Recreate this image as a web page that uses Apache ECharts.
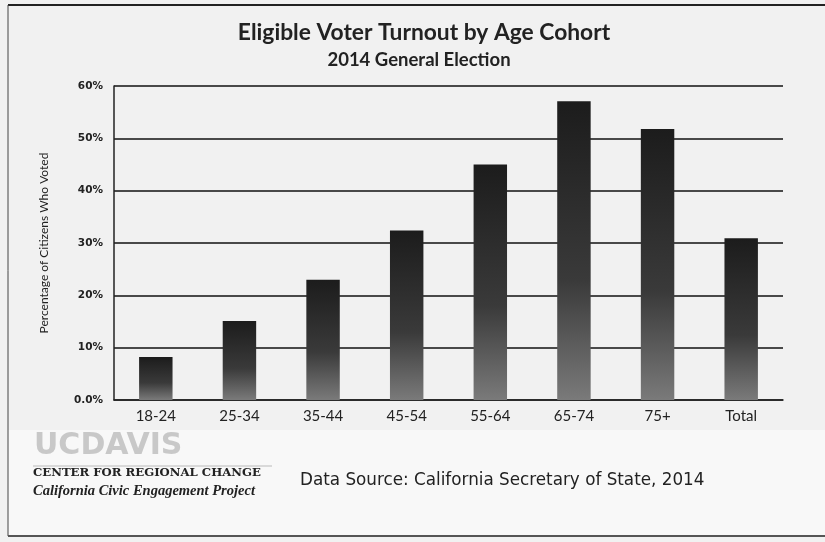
<!DOCTYPE html>
<html><head><meta charset="utf-8">
<script src="https://cdn.jsdelivr.net/npm/echarts@6/dist/echarts.min.js"></script>
<style>html,body{margin:0;padding:0;background:#fff}#c{width:825px;height:542px}</style>
</head><body><div id="c"></div>
<script>
const categories = ['18-24','25-34','35-44','45-54','55-64','65-74','75+','Total'];
const turnout = [8.2, 15.1, 23.0, 32.4, 45.0, 57.1, 51.8, 30.9];
const yTickLabels = ['0.0%','10%','20%','30%','40%','50%','60%'];

const chart = echarts.init(document.getElementById('c'));
const F = 'Lato, "Open Sans", sans-serif';
chart.setOption({
  backgroundColor: '#f1f1f1',
  animation: false,
  title: [
    {text: 'Eligible Voter Turnout by Age Cohort', left: 419, top: 16, textAlign: 'center',
     textStyle: {fontFamily: F, fontSize: 22.8, fontWeight: 'bold', color: '#222'}},
    {text: '2014 General Election', left: 414, top: 46, textAlign: 'center',
     textStyle: {fontFamily: F, fontSize: 18.5, fontWeight: 'bold', color: '#222'}}
  ],
  grid: {left: 114, right: 42, top: 86, bottom: 142},
  xAxis: {
    type: 'category', data: categories,
    axisLine: {lineStyle: {color: '#222', width: 1.5}},
    axisTick: {show: false},
    axisLabel: {fontFamily: F, fontSize: 15, color: '#222', margin: 9}
  },
  yAxis: {
    type: 'value', min: 0, max: 60, interval: 10,
    name: 'Percentage of Citizens Who Voted', nameLocation: 'middle', nameGap: 64,
    nameTextStyle: {fontFamily: F, fontSize: 12, color: '#222'},
    axisLine: {show: true, lineStyle: {color: '#222', width: 1.5}},
    axisTick: {show: false},
    splitLine: {lineStyle: {color: '#111', width: 1.5}},
    axisLabel: {fontFamily: '"DejaVu Sans", sans-serif', fontSize: 10.5, fontWeight: 'bold', color: '#222', margin: 11,
      formatter: (v) => yTickLabels[Math.round(v / 10)]}
  },
  series: [{
    type: 'bar', data: turnout, barWidth: '40%',
    itemStyle: {color: new echarts.graphic.LinearGradient(0, 0, 0, 1, [
      {offset: 0, color: '#1c1c1c'}, {offset: 0.6, color: '#3a3a3a'}, {offset: 1, color: '#7a7a7a'}])}
  }],
  graphic: [
    {type: 'rect', z: -1, shape: {x: 8, y: 430, width: 817, height: 106}, style: {fill: '#f8f8f8'}},
    {type: 'line', shape: {x1: 8, y1: 5, x2: 825, y2: 5}, style: {stroke: '#222', lineWidth: 2}},
    {type: 'line', shape: {x1: 8, y1: 5, x2: 8, y2: 536}, style: {stroke: '#444', lineWidth: 1}},
    {type: 'line', shape: {x1: 8, y1: 536, x2: 825, y2: 536}, style: {stroke: '#555', lineWidth: 2}},
    {type: 'text', left: 34, top: 431, style: {text: 'UCDAVIS', fontFamily: '"DejaVu Sans", sans-serif', fontSize: 30, fontWeight: 'bold', fill: '#c8c8c8'}},
    {type: 'line', shape: {x1: 33, y1: 466, x2: 272, y2: 466}, style: {stroke: '#aaa', lineWidth: 0.8}},
    {type: 'text', left: 33, top: 467, style: {text: 'CENTER FOR REGIONAL CHANGE', fontFamily: '"DejaVu Serif", serif', fontSize: 11.7, fontWeight: 'bold', fill: '#222'}},
    {type: 'text', left: 33, top: 484, style: {text: 'California Civic Engagement Project', fontFamily: '"Liberation Serif", serif', fontSize: 14.5, fontStyle: 'italic', fontWeight: 'bold', fill: '#222'}},
    {type: 'text', left: 300, top: 472, style: {text: 'Data Source: California Secretary of State, 2014', fontFamily: '"DejaVu Sans", sans-serif', fontSize: 16.8, fill: '#222'}}
  ]
});
</script></body></html>
